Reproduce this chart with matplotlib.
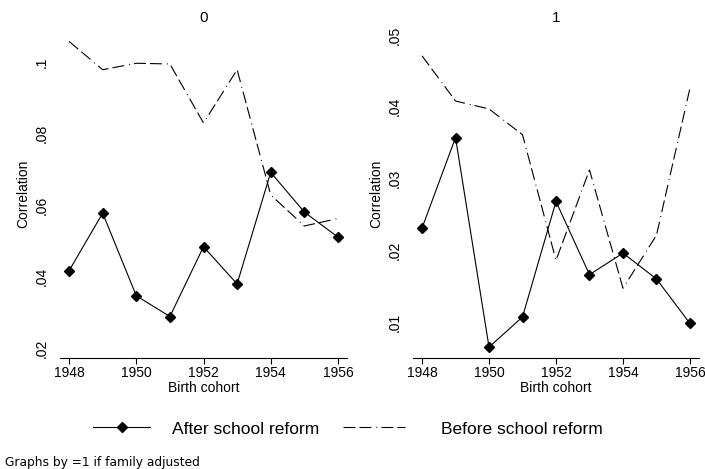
import matplotlib
matplotlib.use("Agg")
import matplotlib.pyplot as plt
from matplotlib.lines import Line2D

plt.rcParams['font.family'] = ['Liberation Sans', 'DejaVu Sans']
plt.rcParams['lines.scale_dashes'] = False

years = [1948, 1949, 1950, 1951, 1952, 1953, 1954, 1955, 1956]

after_0 = [0.0416, 0.0577, 0.0346, 0.0288, 0.0483, 0.0379, 0.0691, 0.0580, 0.0510]
before_0 = [0.1057, 0.0978, 0.0996, 0.0994, 0.0829, 0.0978, 0.0628, 0.0541, 0.0562]

after_1 = [0.0231, 0.0357, 0.0065, 0.0107, 0.0268, 0.0166, 0.0196, 0.0160, 0.0098]
before_1 = [0.0471, 0.0408, 0.0397, 0.0361, 0.0186, 0.0312, 0.0147, 0.0221, 0.0426]

panel_titles = ["0", "1"]
xticks = [1948, 1950, 1952, 1954, 1956]
yticks_0 = [0.02, 0.04, 0.06, 0.08, 0.10]
yticklabels_0 = [".02", ".04", ".06", ".08", ".1"]
yticks_1 = [0.01, 0.02, 0.03, 0.04, 0.05]
yticklabels_1 = [".01", ".02", ".03", ".04", ".05"]

legend_after = "After school reform"
legend_before = "Before school reform"
note = "Graphs by =1 if family adjusted"

W, H = 705, 469
fig = plt.figure(figsize=(W / 100, H / 100), dpi=100)

dash_pat = (0, (8.6, 2.9, 8.6, 3.6, 0.7, 2.9))


def fx(px):
    return px / W


def fy(py):
    return 1 - py / H


top_px, bot_px = 30, 358
panels = [
    dict(left=60, right=347, after=after_0, before=before_0, yt=yticks_0,
         ytl=yticklabels_0, ylim=(0.0172, 0.1089), title=panel_titles[0]),
    dict(left=413, right=699, after=after_1, before=before_1, yt=yticks_1,
         ytl=yticklabels_1, ylim=(0.00498, 0.0507), title=panel_titles[1]),
]

for p in panels:
    ax = fig.add_axes([fx(p['left']), fy(bot_px), fx(p['right'] - p['left']),
                       (bot_px - top_px) / H])
    ax.plot(years, p['before'], color='black', lw=0.8, linestyle=dash_pat)
    ax.plot(years, p['after'], color='black', lw=0.8, marker='D', markersize=5,
            markerfacecolor='black', markeredgecolor='black')
    ax.set_xlim(1947.73, 1956.27)
    ax.set_ylim(*p['ylim'])
    for s in ['top', 'right', 'left']:
        ax.spines[s].set_visible(False)
    ax.spines['bottom'].set_linewidth(0.8)
    ax.set_xticks(xticks)
    ax.set_xticklabels([str(t) for t in xticks], fontsize=10)
    ax.tick_params(axis='x', direction='out', length=4, width=0.8, pad=2)
    ax.set_yticks(p['yt'])
    ax.set_yticklabels(p['ytl'], fontsize=10, rotation=90, va='center')
    ax.tick_params(axis='y', length=0, pad=8)
    ax.set_xlabel("Birth cohort", fontsize=10, labelpad=0.5)
    ax.set_ylabel("Correlation", fontsize=10, labelpad=3)
    ax.patch.set_visible(False)
    cx = (p['left'] + p['right']) / 2
    fig.text(fx(cx), fy(18), p['title'], fontsize=11, ha='center', va='center')

h_after = Line2D([], [], color='black', lw=0.8, marker='D', markersize=5)
h_before = Line2D([], [], color='black', lw=0.8, linestyle=dash_pat)

fs = 12.5
em = fs * 100 / 72
fig.legend(handles=[h_after], labels=[legend_after], loc='center left',
           bbox_to_anchor=(fx(93), fy(429)), frameon=False, fontsize=fs,
           borderpad=0, borderaxespad=0, handlelength=57 / em,
           handletextpad=22 / em, numpoints=1)
fig.legend(handles=[h_before], labels=[legend_before], loc='center left',
           bbox_to_anchor=(fx(343), fy(429)), frameon=False, fontsize=fs,
           borderpad=0, borderaxespad=0, handlelength=62 / em,
           handletextpad=36 / em)

fig.text(fx(5), fy(462), note, fontsize=8.8, ha='left', va='center',
         family=['DejaVu Sans'])

fig.savefig("out.png", dpi=100)
